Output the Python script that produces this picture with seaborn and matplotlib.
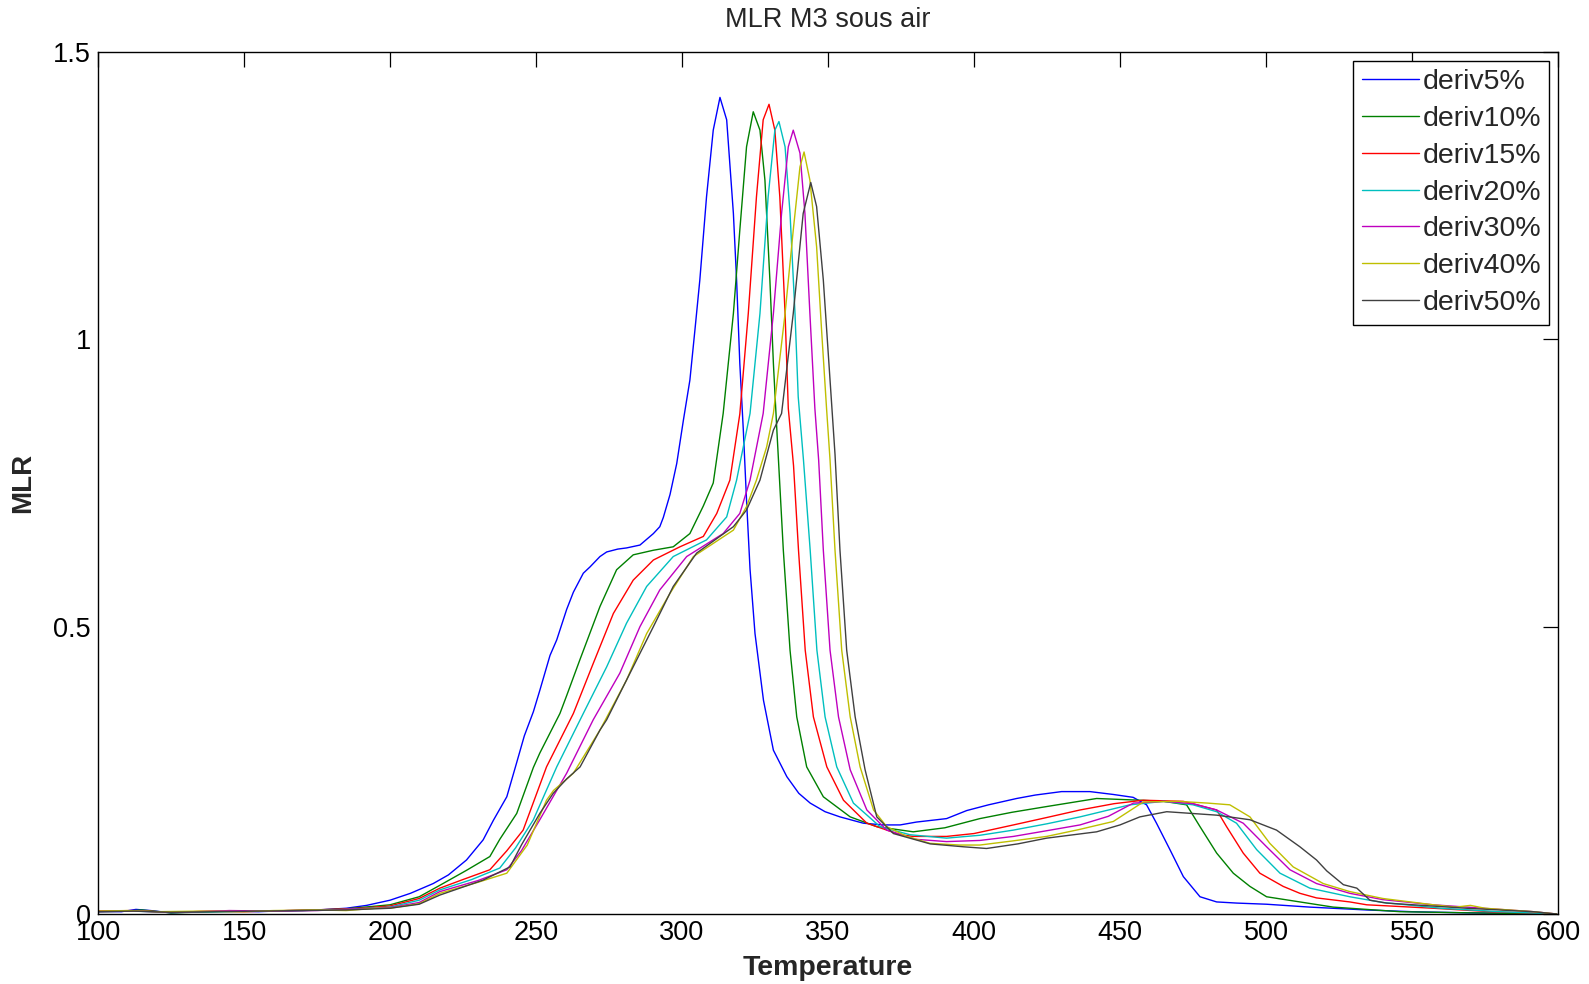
import numpy as np
import pandas as pd
import matplotlib
matplotlib.use("Agg")
import matplotlib.pyplot as plt
import seaborn as sns

# ---------------- data ----------------
series_names = ["deriv5%", "deriv10%", "deriv15%", "deriv20%", "deriv30%", "deriv40%", "deriv50%"]

t_5 = [100, 108, 113, 118, 125, 135, 145, 155, 165, 175, 185, 192, 200, 207, 214.8, 220, 226.2, 231.9,
       235.4, 240, 243.3, 246, 249.1, 251.3, 254.8, 257.1, 260.5, 262.8, 266.2, 268.5, 271.9, 274.2, 278,
       281, 285.6, 290.2, 292.4, 293.6, 295.9, 298.2, 300.5, 302.7, 304.5, 306.1, 308.4, 310.7, 313, 315.3,
       317.6, 318.7, 319.8, 321, 322.1, 323.3, 325, 327.9, 331.3, 335.9, 340, 343.9, 349, 354.1, 362.1,
       368.9, 374.7, 380.3, 390.6, 397.5, 405, 414.6, 421, 430, 439.7, 447.7, 454.5, 459.1, 462.5, 467.1,
       471.7, 477.4, 483.1, 490, 500.2, 515, 534.5, 550, 568.7, 585, 599.5]
m_5 = [0.005, 0.004, 0.008, 0.006, 0.002, 0.004, 0.005, 0.004, 0.006, 0.007, 0.010, 0.015, 0.024, 0.036,
       0.053, 0.068, 0.094, 0.129, 0.163, 0.204, 0.262, 0.310, 0.352, 0.389, 0.450, 0.477, 0.530, 0.560,
       0.593, 0.604, 0.622, 0.630, 0.635, 0.637, 0.642, 0.662, 0.674, 0.690, 0.730, 0.784, 0.860, 0.929,
       1.020, 1.103, 1.248, 1.364, 1.421, 1.382, 1.219, 1.103, 0.958, 0.842, 0.720, 0.600, 0.488, 0.372,
       0.285, 0.239, 0.210, 0.193, 0.178, 0.169, 0.158, 0.155, 0.155, 0.160, 0.166, 0.180, 0.190, 0.201,
       0.207, 0.213, 0.213, 0.208, 0.203, 0.190, 0.158, 0.112, 0.065, 0.030, 0.021, 0.019, 0.017, 0.012,
       0.007, 0.004, 0.002, 0.001, 0.0]

t_10 = [100, 110, 115, 125, 140, 155, 170, 185, 200, 210, 217.1, 226.2, 234.2, 237.6, 243.4, 249.1, 251.3,
        258.2, 260.5, 265, 271.9, 277.6, 283.3, 290.2, 297, 302.7, 307.3, 310.7, 314.1, 317.6, 319.8, 322.1,
        324.4, 326.7, 328.4, 330.1, 331.3, 332.4, 334.7, 337, 339.3, 342.7, 348.4, 357.6, 366.7, 379.2, 390,
        402, 413, 424.9, 442, 456.8, 465, 472.8, 477.4, 483.1, 488.8, 494.5, 500.2, 511.6, 523, 545.9, 570,
        599.5]
m_10 = [0.004, 0.005, 0.007, 0.002, 0.004, 0.005, 0.006, 0.009, 0.016, 0.030, 0.050, 0.076, 0.100, 0.130,
        0.175, 0.255, 0.280, 0.349, 0.380, 0.442, 0.535, 0.599, 0.625, 0.633, 0.639, 0.662, 0.710, 0.750,
        0.871, 1.045, 1.190, 1.335, 1.396, 1.364, 1.277, 1.103, 0.958, 0.850, 0.633, 0.459, 0.343, 0.256,
        0.204, 0.169, 0.152, 0.143, 0.150, 0.166, 0.177, 0.187, 0.201, 0.198, 0.196, 0.190, 0.152, 0.106,
        0.071, 0.048, 0.030, 0.021, 0.012, 0.004, 0.002, 0.0]

t_15 = [100, 112, 125, 140, 150, 165, 180, 190, 200, 210, 217.1, 225, 234.2, 240, 245.6, 253.6, 262.8,
        269.6, 276.5, 283.3, 290.2, 299.3, 307.3, 311.9, 316.4, 319.8, 322.7, 325.5, 327.8, 329.8, 331.8,
        333.5, 335.3, 336.4, 338.2, 339.9, 342.2, 345, 349.6, 355.3, 363.3, 374.7, 379.2, 390.6, 400, 413.5,
        425, 436.3, 448, 458, 471.7, 483.1, 486.5, 492.2, 497.9, 505.9, 511.6, 517.3, 528.7, 534.5, 557.3,
        577, 599.5]
m_15 = [0.005, 0.006, 0.003, 0.005, 0.004, 0.006, 0.008, 0.010, 0.014, 0.027, 0.045, 0.060, 0.077, 0.110,
        0.146, 0.256, 0.349, 0.436, 0.523, 0.581, 0.616, 0.639, 0.657, 0.697, 0.755, 0.870, 1.045, 1.248,
        1.382, 1.409, 1.364, 1.248, 1.045, 0.880, 0.780, 0.633, 0.459, 0.343, 0.256, 0.198, 0.158, 0.138,
        0.135, 0.135, 0.140, 0.155, 0.168, 0.181, 0.192, 0.198, 0.196, 0.181, 0.152, 0.106, 0.071, 0.048,
        0.036, 0.028, 0.021, 0.016, 0.010, 0.004, 0.0]

t_20 = [100, 112, 125, 140, 155, 170, 185, 200, 210, 217.1, 228, 237.6, 243, 249.1, 257.1, 266.2, 274.2, 281,
        287.9, 297, 308.4, 315.3, 318.7, 323.3, 326.7, 329.5, 331.8, 333.2, 335.3, 337, 338.7, 339.8, 341.6,
        343.9, 346.2, 349, 353, 358.7, 367.8, 378, 390.6, 402, 413.5, 425, 436.3, 453.4, 465, 475, 483.1,
        489.9, 496.8, 504.8, 515, 528.7, 540, 560, 580, 599.5]
m_20 = [0.004, 0.005, 0.003, 0.004, 0.005, 0.006, 0.008, 0.012, 0.024, 0.042, 0.060, 0.080, 0.115, 0.164,
        0.256, 0.349, 0.430, 0.506, 0.570, 0.622, 0.651, 0.691, 0.755, 0.871, 1.045, 1.248, 1.364, 1.379,
        1.335, 1.219, 1.045, 0.900, 0.790, 0.633, 0.459, 0.343, 0.256, 0.193, 0.152, 0.138, 0.132, 0.137,
        0.146, 0.157, 0.169, 0.190, 0.196, 0.190, 0.178, 0.158, 0.112, 0.071, 0.045, 0.030, 0.020, 0.010,
        0.004, 0.0]

t_30 = [100, 113, 125, 140, 145, 160, 175, 190, 200, 210, 217.1, 230, 240, 245, 251.3, 260.5, 269.6, 278.7,
        285.6, 292.4, 301.6, 314.1, 319.8, 323.3, 327.8, 331.3, 334.1, 336.4, 338.1, 340.4, 342.1, 343.8,
        345.5, 346.8, 348.4, 350.7, 353.6, 357.6, 363.3, 370.1, 380, 390.6, 402, 413.5, 425, 436.3, 446,
        454.6, 465, 475, 483.1, 492.2, 500.2, 508.2, 517.3, 528.7, 540, 557.3, 568.7, 591.6, 599.5]
m_30 = [0.004, 0.005, 0.003, 0.005, 0.006, 0.005, 0.006, 0.009, 0.011, 0.020, 0.039, 0.058, 0.077, 0.110,
        0.164, 0.245, 0.338, 0.419, 0.500, 0.564, 0.622, 0.662, 0.697, 0.755, 0.871, 1.045, 1.219, 1.335,
        1.364, 1.324, 1.219, 1.045, 0.880, 0.790, 0.633, 0.459, 0.343, 0.251, 0.181, 0.146, 0.130, 0.126,
        0.128, 0.135, 0.145, 0.155, 0.170, 0.193, 0.196, 0.192, 0.181, 0.158, 0.117, 0.077, 0.053, 0.036,
        0.025, 0.016, 0.012, 0.004, 0.0]

t_40 = [100, 110, 120, 135, 150, 160, 175, 185, 195, 200, 210, 217.1, 230, 240, 247, 253.6, 256, 262.8,
        271.9, 281, 287.9, 295.9, 303.9, 317.6, 322.1, 325.5, 329, 331.3, 335.3, 338.1, 340.4, 341.8, 343.8,
        346.1, 347.8, 349.5, 350.7, 352.4, 354.7, 357.6, 361, 365.6, 370.1, 377, 384.9, 395, 402, 413, 424.9,
        436, 447.7, 458, 470, 480, 487.6, 494.5, 501.3, 509.3, 519.6, 528.7, 540, 557.3, 565, 570, 575,
        591.6, 599.5]
m_40 = [0.005, 0.006, 0.004, 0.005, 0.004, 0.006, 0.007, 0.006, 0.010, 0.010, 0.018, 0.036, 0.055, 0.071,
        0.120, 0.198, 0.215, 0.245, 0.320, 0.407, 0.488, 0.558, 0.622, 0.668, 0.709, 0.755, 0.813, 0.871,
        1.045, 1.190, 1.300, 1.326, 1.277, 1.161, 1.016, 0.880, 0.790, 0.633, 0.459, 0.343, 0.256, 0.181,
        0.152, 0.135, 0.123, 0.120, 0.120, 0.127, 0.135, 0.147, 0.161, 0.195, 0.196, 0.193, 0.190, 0.169,
        0.123, 0.082, 0.053, 0.039, 0.027, 0.016, 0.012, 0.015, 0.010, 0.004, 0.0]

t_50 = [100, 112, 125, 140, 155, 170, 185, 200, 210, 217.1, 231.9, 241.1, 245, 251.3, 255.9, 260.5, 265.1,
        271.9, 274.2, 281, 290.2, 297, 305, 317.6, 322.1, 326.7, 331.3, 334.1, 338.1, 341.5, 344.1, 346.1,
        348.4, 350.7, 352.4, 354.1, 356.4, 359.3, 362.7, 366.7, 372.4, 385, 396.3, 404.3, 415, 424.9, 442,
        450, 456.8, 466, 483.1, 494.5, 503.6, 511.6, 517.3, 520.8, 526.5, 531.1, 535.6, 541.3, 550.5, 568.7,
        591.6, 599.5]
m_50 = [0.004, 0.005, 0.003, 0.004, 0.005, 0.006, 0.007, 0.010, 0.017, 0.033, 0.059, 0.082, 0.120, 0.175,
        0.210, 0.235, 0.256, 0.320, 0.338, 0.407, 0.500, 0.570, 0.628, 0.674, 0.703, 0.755, 0.842, 0.871,
        1.045, 1.219, 1.273, 1.231, 1.103, 0.929, 0.800, 0.633, 0.459, 0.343, 0.251, 0.169, 0.140, 0.122,
        0.117, 0.114, 0.122, 0.132, 0.143, 0.155, 0.169, 0.178, 0.172, 0.164, 0.146, 0.117, 0.094, 0.075,
        0.051, 0.045, 0.024, 0.019, 0.016, 0.010, 0.004, 0.0]

x_ticks = [100, 150, 200, 250, 300, 350, 400, 450, 500, 550, 600]
y_ticks = [0, 0.5, 1, 1.5]
y_tick_labels = ["0", "0.5", "1", "1.5"]

# MATLAB classic color order
colors = ["#0000ff", "#008000", "#ff0000", "#00bfbf", "#bf00bf", "#bfbf00", "#404040"]

# ---------------- build table ----------------
all_t = [t_5, t_10, t_15, t_20, t_30, t_40, t_50]
all_m = [m_5, m_10, m_15, m_20, m_30, m_40, m_50]
frames = []
for name, t, m in zip(series_names, all_t, all_m):
    frames.append(pd.DataFrame({"Temperature": t, "MLR": m, "series": name}))
df = pd.concat(frames, ignore_index=True)

# ---------------- plot ----------------
sns.set_style("white")
plt.rcParams["font.family"] = ["Liberation Sans", "DejaVu Sans"]

fig = plt.figure(figsize=(15.89, 9.84), dpi=100)
ax = fig.add_axes([98 / 1589, 1 - 914 / 984, (1558 - 98) / 1589, (914 - 52) / 984])

sns.lineplot(data=df, x="Temperature", y="MLR", hue="series", hue_order=series_names,
             palette=dict(zip(series_names, colors)), estimator=None, sort=False,
             linewidth=1.0, ax=ax, legend=True)

ax.set_xlim(100, 600)
ax.set_ylim(0, 1.5)
ax.set_xticks(x_ticks)
ax.set_xticklabels([str(v) for v in x_ticks])
ax.set_yticks(y_ticks)
ax.set_yticklabels(y_tick_labels)
ax.tick_params(direction="in", length=11, width=0.9, top=True, right=True,
               labelsize=19.5, colors="black")
ax.tick_params(axis="y", pad=5)
ax.tick_params(axis="x", pad=4)
for s in ax.spines.values():
    s.set_visible(True)
    s.set_color("black")
    s.set_linewidth(1.0)

ax.set_xlabel("Temperature", fontsize=20.5, fontweight="bold", labelpad=7)
ax.set_ylabel("MLR", fontsize=20, fontweight="bold", labelpad=12)
ax.set_title("MLR M3 sous air", fontsize=19.5, pad=18)

handles, labels = ax.get_legend_handles_labels()
leg = ax.legend(handles, labels, loc="upper right", fontsize=20.5, frameon=True, fancybox=False,
                framealpha=1, edgecolor="black", handlelength=2.0, handletextpad=0.12,
                labelspacing=0.38, borderpad=0.3, borderaxespad=0.3)
leg.get_frame().set_linewidth(1.0)
for line in leg.get_lines():
    line.set_linewidth(1.0)

fig.savefig("out.png", dpi=100, facecolor="white")
